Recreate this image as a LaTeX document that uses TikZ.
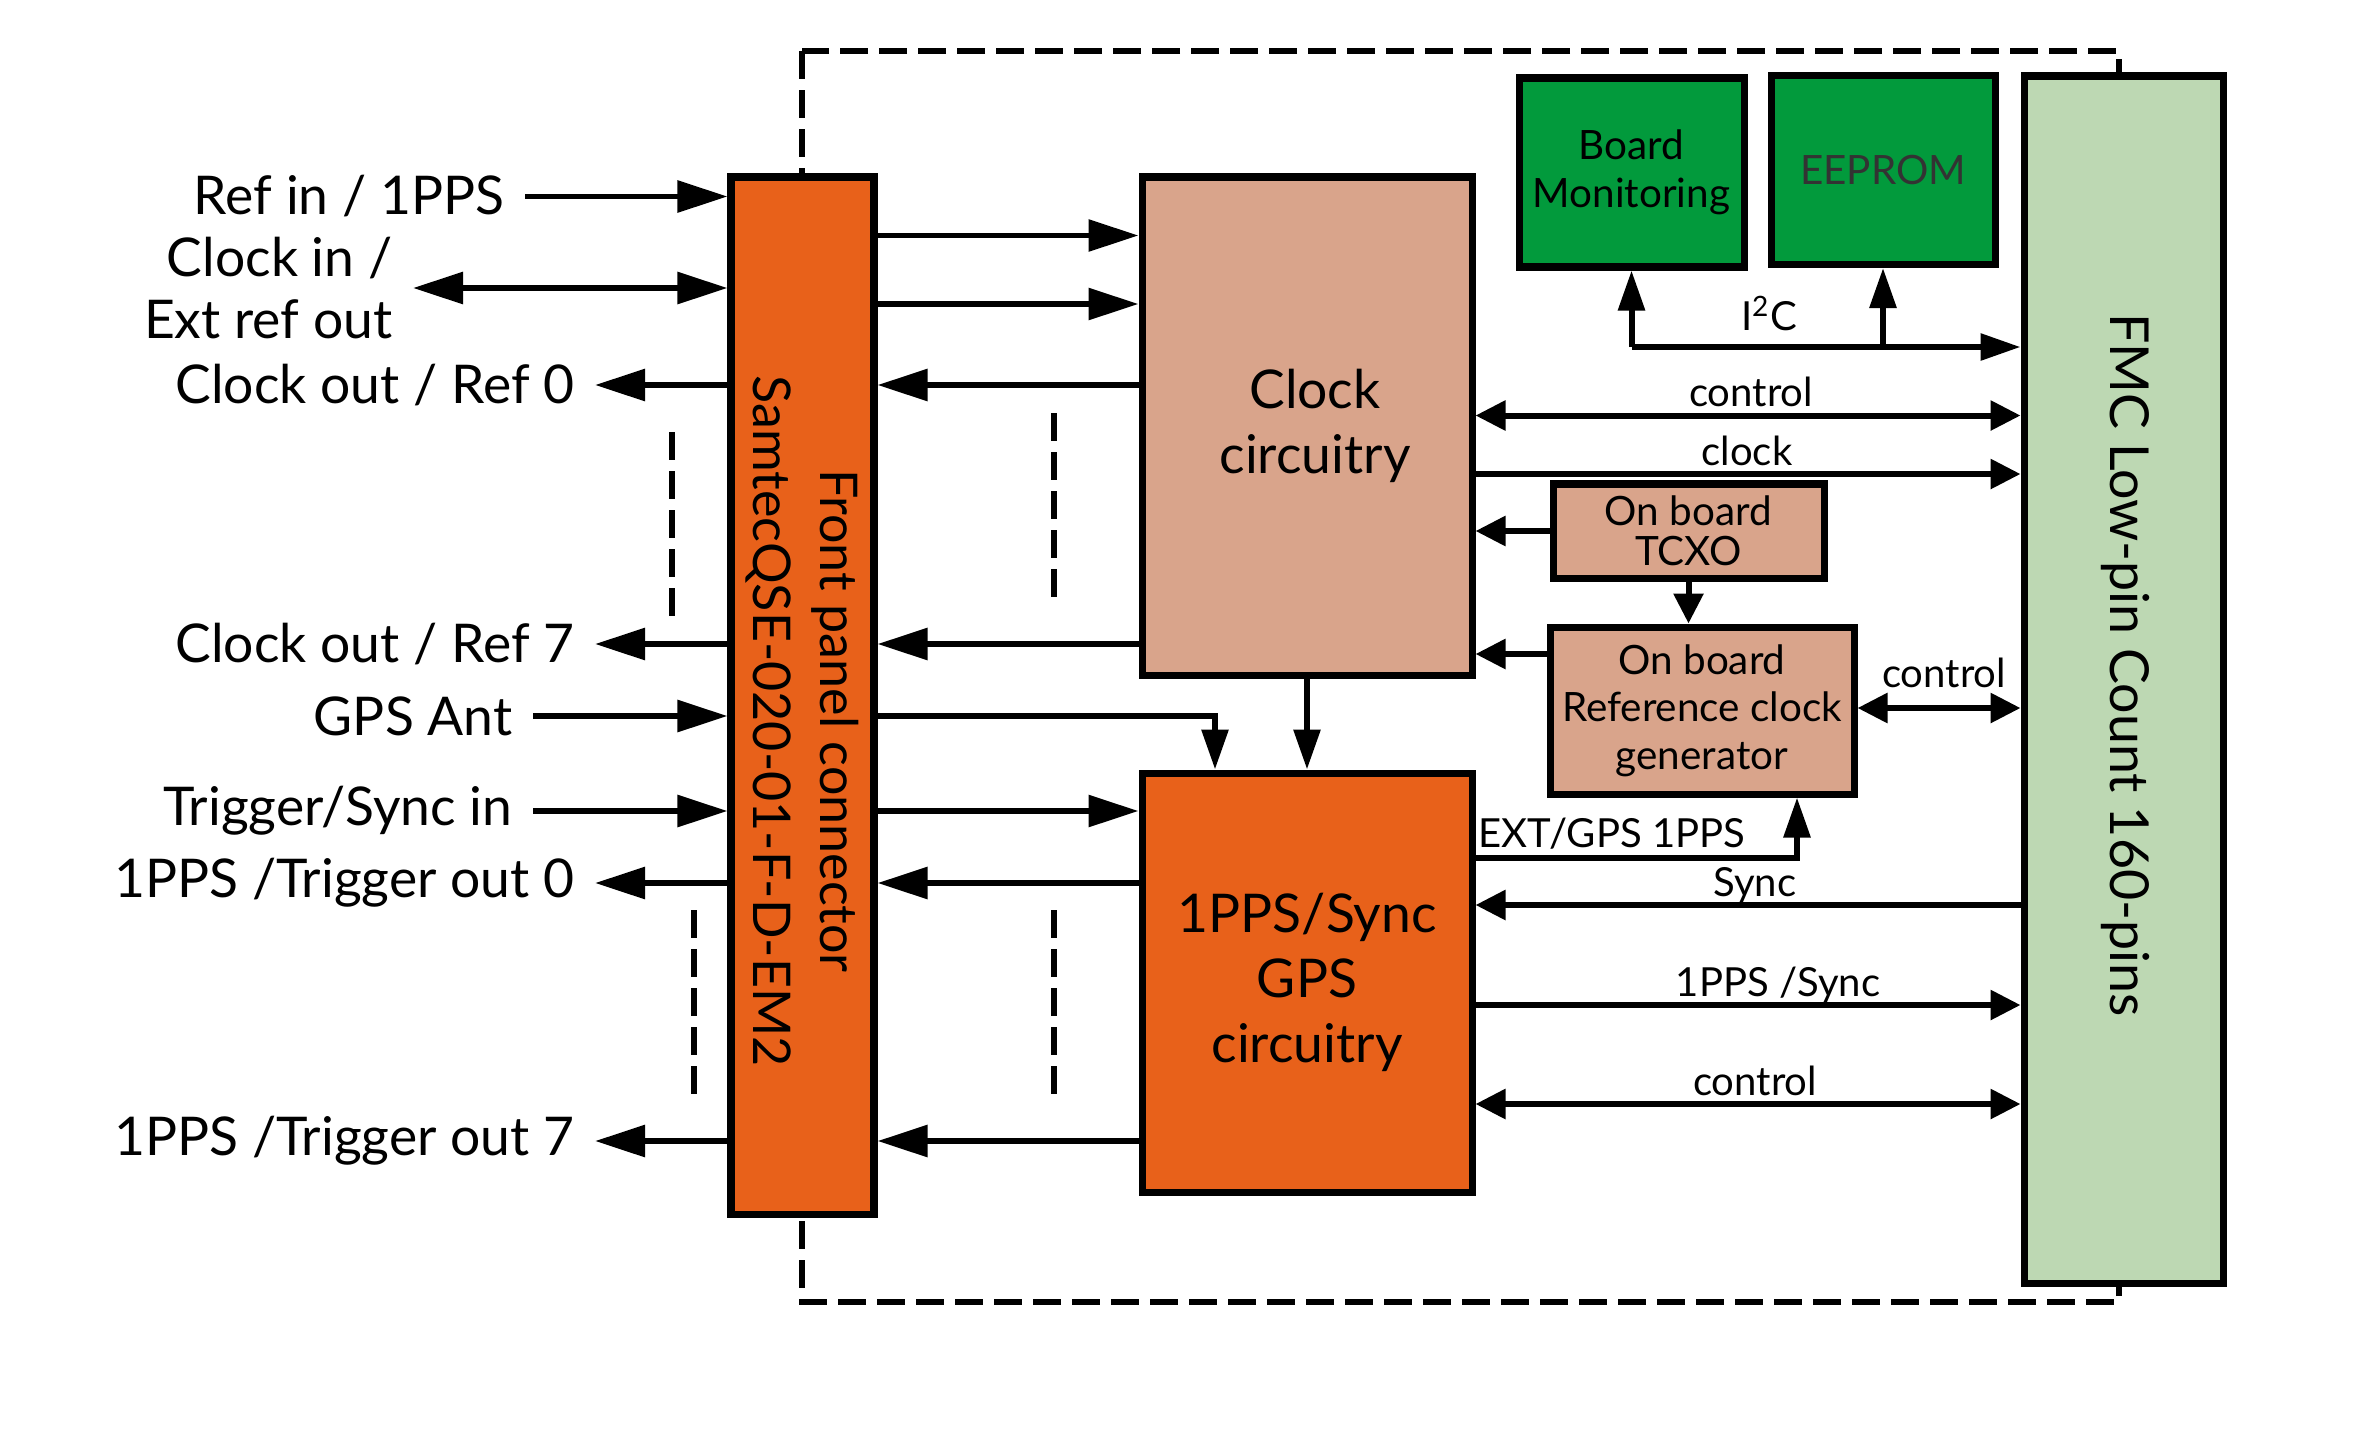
\documentclass[tikz,border=0pt]{standalone}
\usepackage{fontspec}
\setmainfont{Lato}
\usetikzlibrary{arrows.meta,calc}

\definecolor{fporange}{HTML}{E8611A}
\definecolor{clksalmon}{HTML}{D9A48B}
\definecolor{mongreen}{HTML}{029A3C}
\definecolor{fmcgreen}{HTML}{BDD8B3}

\tikzset{
  bigtip/.tip={Triangle[length=0.5cm,width=0.31cm]},
  midtip/.tip={Triangle[length=0.4cm,width=0.26cm]},
  smalltip/.tip={Triangle[length=0.3cm,width=0.29cm]}
}

\begin{document}
\begin{tikzpicture}[
  box/.style={draw,line width=2pt,inner sep=0pt,align=center},
  lbl/.style={font=\fontsize{15.2}{17.6}\selectfont,inner xsep=0.2cm,inner ysep=0pt,align=right,anchor=east},
  tag/.style={font=\fontsize{11.4}{13}\selectfont,inner sep=0pt,anchor=base},
  wire/.style={line width=1.7pt},
  gapline/.style={line width=1.7pt,dash pattern=on 0.28cm off 0.11cm}
]
  \useasboundingbox (0,0) rectangle (23.76,-14.34);
  % board outline
  \draw[gapline] (8.02,-0.51) rectangle (21.19,-13.02);
  % front panel connector
  \node[box,fill=fporange,minimum width=1.43cm,minimum height=10.37cm] (fp) at (8.025,-6.955) {};
  \node[rotate=-90,align=center,font=\fontsize{14.8}{19}\selectfont] (fptxt) at (8.02,-7.21) {Front panel connector\\SamtecQSE-020-01-F-D-EM2};
  % FMC connector
  \node[box,fill=fmcgreen,minimum width=1.99cm,minimum height=12.07cm] (fmc) at (21.235,-6.795) {};
  \node[rotate=-90,font=\fontsize{15.3}{19}\selectfont] (fmctxt) at (21.25,-6.65) {FMC Low-pin Count 160-pins};
  % main blocks
  \node[box,fill=clksalmon,minimum width=3.30cm,minimum height=4.98cm,font=\fontsize{15.2}{18.5}\selectfont] (clk) at (13.07,-4.26) {};
  \node (clktxt) at ([xshift=0.08cm]clk.center) [align=center,font=\fontsize{15.2}{18.5}\selectfont] {Clock\\circuitry};
  \node[box,fill=fporange,minimum width=3.30cm,minimum height=4.19cm,font=\fontsize{15.2}{18.5}\selectfont] (pps) at (13.07,-9.825) {1PPS/Sync\\GPS\\circuitry};
  \node[box,fill=mongreen,minimum width=2.25cm,minimum height=1.89cm,font=\fontsize{11.5}{13.7}\selectfont] (bm) at (16.315,-1.725) {Board\\Monitoring};
  \node[box,fill=mongreen,minimum width=2.24cm,minimum height=1.89cm,font=\fontsize{11.5}{13.7}\selectfont,text=black!80] (ee) at (18.83,-1.70) {EEPROM};
  \node[box,fill=clksalmon,minimum width=2.71cm,minimum height=0.94cm,font=\fontsize{11.5}{11.5}\selectfont] (tcxo) at (16.885,-5.31) {On board\\TCXO};
  \node[box,fill=clksalmon,minimum width=3.04cm,minimum height=1.67cm,font=\fontsize{11.5}{13.5}\selectfont] (ref) at (17.02,-7.105) {On board\\Reference clock\\generator};

  % front panel signals
  \node[lbl] (refin) at (5.25,-1.965) {Ref in / 1PPS};
  \node[lbl] (clkin) at (4.13,-2.88) {Clock in /\\Ext ref out};
  \node[lbl] (clkout0) at (5.95,-3.85) {Clock out / Ref 0};
  \node[lbl] (clkout7) at (5.95,-6.44) {Clock out / Ref 7};
  \node[lbl] (gpsant) at (5.33,-7.16) {GPS Ant};
  \node[lbl] (trigin) at (5.33,-8.11) {Trigger/Sync in};
  \node[lbl] (ppsout0) at (5.95,-8.83) {1PPS /Trigger out 0};
  \node[lbl] (ppsout7) at (5.95,-11.41) {1PPS /Trigger out 7};
  \draw[wire,-bigtip] (refin.east) -- (refin.east -| fp.west);
  \draw[wire,bigtip-bigtip] (clkin.east) -- (clkin.east -| fp.west);
  \draw[wire,-bigtip] (clkout0.east -| fp.west) -- (clkout0.east);
  \draw[wire,-bigtip] (clkout7.east -| fp.west) -- (clkout7.east);
  \draw[wire,-bigtip] (gpsant.east) -- (gpsant.east -| fp.west);
  \draw[wire,-bigtip] (trigin.east) -- (trigin.east -| fp.west);
  \draw[wire,-bigtip] (ppsout0.east -| fp.west) -- (ppsout0.east);
  \draw[wire,-bigtip] (ppsout7.east -| fp.west) -- (ppsout7.east);
  \draw[gapline] (6.72,-4.32) -- (6.72,-6.17);
  \draw[gapline] (6.94,-9.10) -- (6.94,-10.98);

  % front panel <-> clock and 1PPS blocks
  \coordinate (ci1) at (10,-2.355); \coordinate (ci2) at (10,-3.04);
  \draw[wire,-bigtip] (fp.east |- ci1) -- (clk.west |- ci1);
  \draw[wire,-bigtip] (fp.east |- ci2) -- (clk.west |- ci2);
  \draw[wire,-bigtip] (clk.west |- clkout0) -- (fp.east |- clkout0);
  \draw[wire,-bigtip] (clk.west |- clkout7) -- (fp.east |- clkout7);
  \draw[gapline] (10.54,-4.13) -- (10.54,-6.01);
  \coordinate (gpsdrop) at (12.15,0);
  \draw[wire,-midtip] (fp.east |- gpsant) -| (gpsdrop |- pps.north);
  \draw[wire,-midtip] (clk.south) -- (pps.north);
  \draw[wire,-bigtip] (fp.east |- trigin) -- (pps.west |- trigin);
  \draw[wire,-bigtip] (pps.west |- ppsout0) -- (fp.east |- ppsout0);
  \draw[wire,-bigtip] (pps.west |- ppsout7) -- (fp.east |- ppsout7);
  \draw[gapline] (10.54,-9.10) -- (10.54,-10.98);

  % I2C bus
  \coordinate (i2c) at (16.30,-3.47);
  \draw[wire,-midtip] (bm.south |- i2c) -- (bm.south);
  \draw[wire,-midtip] (ee.south |- i2c) -- (ee.south);
  \draw[wire,-midtip] (bm.south |- i2c) -- (fmc.west |- i2c);
  \node[tag] (i2ctxt) at (17.69,-3.30) {I\textsuperscript{2}C};

  % clock block <-> FMC
  \coordinate (ctl1) at (17,-4.155); \coordinate (clko) at (17,-4.74);
  \draw[wire,smalltip-smalltip] (clk.east |- ctl1) -- (fmc.west |- ctl1);
  \node[tag] (ctl1txt) at (17.51,-4.065) {control};
  \draw[wire,-smalltip] (clk.east |- clko) -- (fmc.west |- clko);
  \node[tag] (clkotxt) at (17.47,-4.65) {clock};
  \draw[wire,-smalltip] (tcxo.west) -- (clk.east |- tcxo.west);
  \draw[wire,-smalltip] (tcxo.south) -- (ref.north -| tcxo.south);
  \coordinate (rc) at (15,-6.54);
  \draw[wire,-smalltip] (ref.west |- rc) -- (clk.east |- rc);
  \coordinate (ctl2) at (19,-7.08);
  \draw[wire,smalltip-smalltip] (ref.east |- ctl2) -- (fmc.west |- ctl2);
  \node[tag] (ctl2txt) at (19.44,-6.87) {control};

  % 1PPS block <-> FMC and reference
  \coordinate (ext) at (17.97,-8.58);
  \draw[wire,-midtip] (pps.east |- ext) -| (ref.south -| ext);
  \node[tag,anchor=base west] (exttxt) at (14.78,-8.47) {EXT/GPS 1PPS};
  \coordinate (syn) at (17,-9.05); \coordinate (ppsy) at (17,-10.05); \coordinate (ctl3) at (17,-11.04);
  \draw[wire,-smalltip] (fmc.west |- syn) -- (pps.east |- syn);
  \node[tag] (syntxt) at (17.55,-8.96) {Sync};
  \draw[wire,-smalltip] (pps.east |- ppsy) -- (fmc.west |- ppsy);
  \node[tag] (ppsytxt) at (17.78,-9.96) {1PPS /Sync};
  \draw[wire,smalltip-smalltip] (pps.east |- ctl3) -- (fmc.west |- ctl3);
  \node[tag] (ctl3txt) at (17.55,-10.95) {control};
\end{tikzpicture}
\end{document}
